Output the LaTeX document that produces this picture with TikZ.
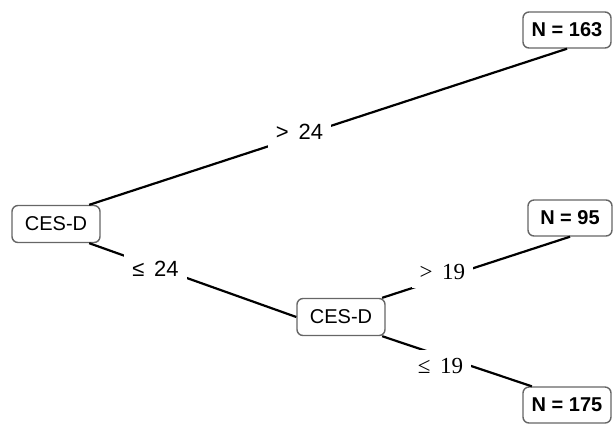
\documentclass[tikz,border=0pt]{standalone}
\usepackage{fontspec}
\setmainfont{Liberation Serif}
\setsansfont{Liberation Sans}
\tikzstyle{split} = [rectangle, rounded corners=3pt, minimum width=44pt, minimum height=18.5pt, text centered, draw=black!60, line width=0.7pt, font=\sffamily\fontsize{10}{12}\selectfont]
\tikzstyle{leaf} = [split, font=\sffamily\bfseries\fontsize{10}{12}\selectfont, minimum height=18pt]
\tikzstyle{edge} = [line width=1.1pt]
\tikzstyle{cond} = [fill=white, inner sep=4pt, font=\fontsize{11.5}{13}\selectfont]

\begin{document}
\begin{tikzpicture}[x=0.5pt,y=-0.5pt]
\useasboundingbox (0,0) rectangle (615,425);
\node (root) [split] at (56,224) {CES-D};
\node (ces) [split] at (341,317) {CES-D};
\node (n163) [leaf] at (567,30) {N = 163};
\node (n95) [leaf, minimum width=42pt] at (570,218) {N = 95};
\node (n175) [leaf] at (567,405) {N = 175};

\draw [edge] (root.30) -- node[cond, pos=0.44, yshift=2pt, font=\sffamily\fontsize{11}{13}\selectfont] {>\, 24} (n163.south);
\draw [edge] (root.-30) -- node[cond, pos=0.32, yshift=-1pt, font=\sffamily\fontsize{11}{13}\selectfont] {≤\, 24} (ces.west);
\draw [edge] (ces.25) -- node[cond, pos=0.32, yshift=3pt] {>\, 19} (n95.south);
\draw [edge] (ces.-25) -- node[cond, pos=0.39, yshift=-5pt] {≤\, 19} (n175.152);

\end{tikzpicture}
\end{document}
